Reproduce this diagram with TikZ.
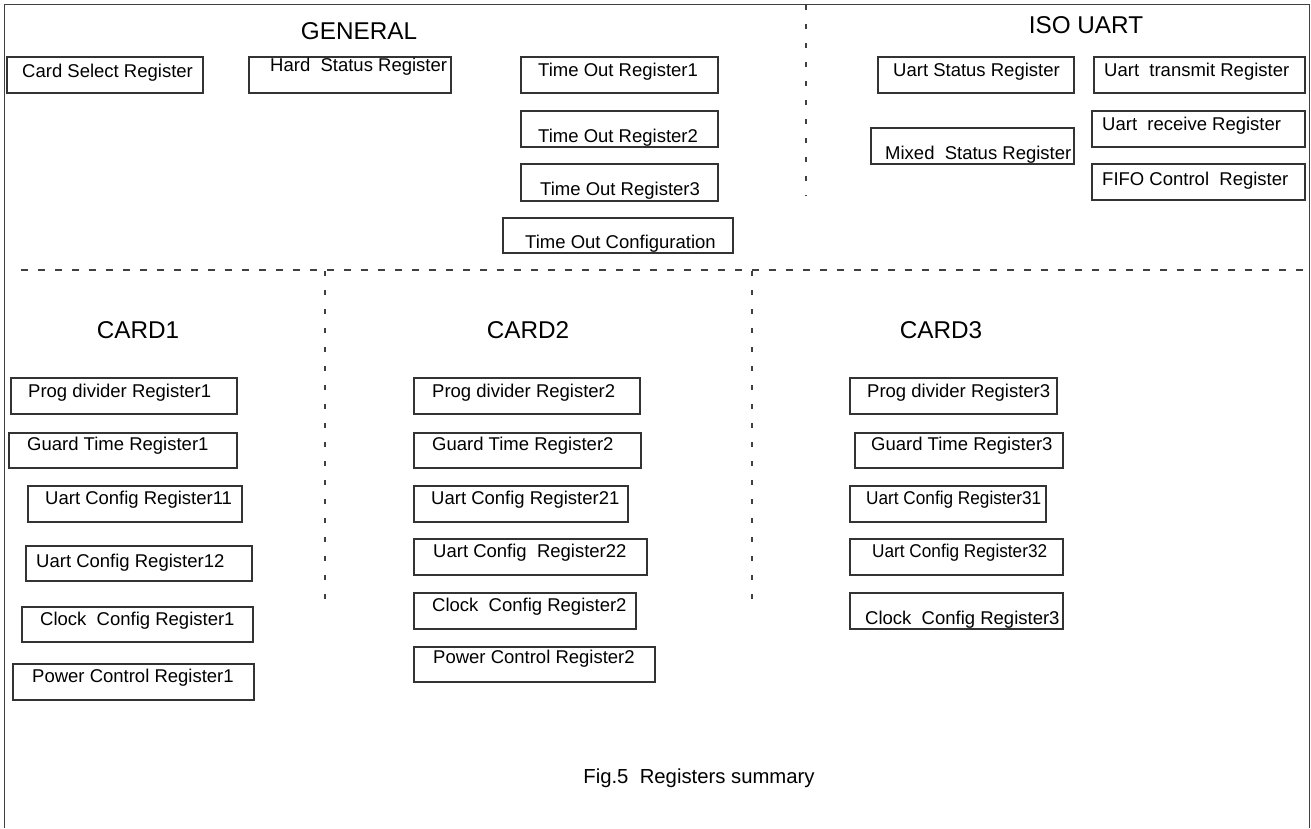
\documentclass[tikz,border=0pt]{standalone}
\usepackage{fontspec}
\setmainfont{Liberation Sans}
\begin{document}
\begin{tikzpicture}[x=1pt,y=-1pt,
  frame/.style={draw=black!75,line width=1.8pt},
  regbox/.style={draw=black!80,line width=1.3pt,rectangle,inner sep=0pt,outer sep=0pt},
  regtxt/.style={inner sep=0pt,font=\fontsize{18.5}{20}\selectfont},
  head/.style={inner sep=0pt,anchor=base,font=\fontsize{24.3}{26}\selectfont},
  hdash/.style={draw=black!75,line width=1.2pt,dash pattern=on 7pt off 10pt},
  vdash/.style={draw=black!75,line width=1.3pt,dash pattern=on 5pt off 14pt}]
\useasboundingbox (0,0) rectangle (1311,828);
\newcommand\reg[8]{%
  \pgfmathsetmacro\rw{#4-#2}\pgfmathsetmacro\rh{#5-#3}%
  \node[regbox,minimum width=\rw pt,minimum height=\rh pt,anchor=north west] (#1) at (#2,#3) {};
  \node[regtxt,anchor=base west] (#1t) at (#6,#7) {#8};}
% frame
\coordinate (fbl) at (4.5,828);
\coordinate (ftl) at (4.5,4.5);
\coordinate (ftr) at (1309.5,4.5);
\coordinate (fbr) at (1309.5,828);
\draw[frame] (fbl) -- (ftl) -- (ftr) -- (fbr);
% separators
\coordinate (vt1) at (806,5); \coordinate (vt2) at (806,196);
\draw[vdash] (vt1) -- (vt2);
\coordinate (h1) at (21,270); \coordinate (h2) at (1311,270);
\draw[hdash] (h1) -- (h2);
\coordinate (va1) at (325,271); \coordinate (va2) at (325,612);
\draw[vdash] (va1) -- (va2);
\coordinate (vb1) at (752,271); \coordinate (vb2) at (752,612);
\draw[vdash] (vb1) -- (vb2);
% headings
\node[head] (gen) at (359,39) {GENERAL};
\node[head] (iso) at (1086,33) {ISO UART};
\node[head] (c1) at (138,338) {CARD1};
\node[head] (c2) at (528,338) {CARD2};
\node[head] (c3) at (941,338) {CARD3};
% general
\reg{csr}{7}{57}{203}{93}{22}{77}{Card Select Register}
\reg{hsr}{249}{57}{451}{93}{270}{71}{Hard\ \ Status Register}
\reg{to1}{521}{57}{718}{93}{538}{76}{Time Out Register1}
\reg{to2}{521}{111}{718}{147}{538}{142}{Time Out Register2}
\reg{to3}{521}{164}{718}{201}{540}{195}{Time Out Register3}
\reg{toc}{503}{218}{733}{253}{525}{248}{Time Out Configuration}
% iso uart
\reg{usr}{878}{57}{1074}{93}{893}{76}{Uart Status Register}
\reg{utr}{1094}{57}{1305}{93}{1104}{76}{Uart\ \ transmit Register}
\reg{msr}{871}{128}{1074}{164}{885}{159}{Mixed\ \ Status Register}
\reg{urr}{1092}{111}{1305}{147}{1102}{130}{Uart\ \ receive Register}
\reg{fcr}{1092}{164}{1305}{200}{1102}{185}{FIFO Control\ \ Register}
% card1
\reg{pd1}{11}{378}{237}{414}{28}{397}{Prog divider Register1}
\reg{gt1}{9}{433}{237}{468}{27}{450}{Guard Time Register1}
\reg{u11}{28}{486}{242}{522}{45}{504}{Uart Config Register11}
\reg{u12}{26}{546}{252}{581}{36}{567}{Uart Config Register12}
\reg{ck1}{22}{607}{253}{642}{40}{625}{Clock\ \ Config Register1}
\reg{pw1}{13}{664}{254}{700}{32}{682}{Power Control Register1}
% card2
\reg{pd2}{414}{378}{640}{414}{432}{397}{Prog divider Register2}
\reg{gt2}{414}{433}{641}{468}{432}{450}{Guard Time Register2}
\reg{u21}{414}{486}{628}{522}{431}{504}{Uart Config Register21}
\reg{u22}{414}{539}{647}{575}{433}{557}{Uart Config\ \ Register22}
\reg{ck2}{414}{593}{636}{629}{432}{611}{Clock\ \ Config Register2}
\reg{pw2}{414}{647}{655}{682}{433}{663}{Power Control Register2}
% card3
\reg{pd3}{850}{378}{1057}{414}{867}{397}{Prog divider Register3}
\reg{gt3}{855}{433}{1063}{468}{871}{450}{Guard Time Register3}
\reg{u31}{850}{486}{1046}{522}{866}{504}{\scalebox{0.93}[1]{Uart Config Register31}}
\reg{u32}{850}{539}{1063}{575}{872}{557}{\scalebox{0.93}[1]{Uart Config Register32}}
\reg{ck3}{850}{593}{1063}{629}{865}{624}{Clock\ \ Config Register3}
% caption
\node[inner sep=0pt,anchor=base,font=\fontsize{20.3}{22}\selectfont] (cap) at (699,783) {Fig.5\ \ Registers summary};
\end{tikzpicture}
\end{document}
